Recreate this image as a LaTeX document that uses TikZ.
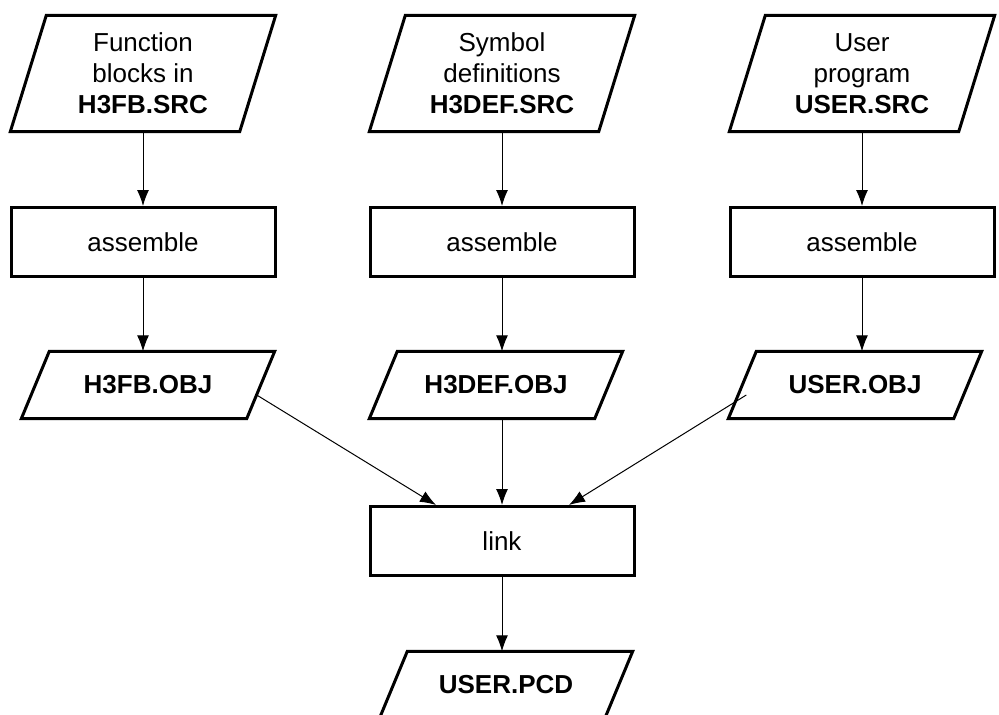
\documentclass[tikz,border=0pt]{standalone}
\usepackage{fontspec}
\setmainfont{Liberation Sans}
\usetikzlibrary{arrows.meta}
\tikzset{
    every node/.append style={font=\fontsize{26}{31}\selectfont, align=center},
    flow/.style={line width=1pt, -{Latex[length=16pt,width=12pt]}},
    outline/.style={line width=3pt},
    process/.style={draw, outline, minimum width=264pt, minimum height=69pt,
        inner sep=0pt},
    srcfile/.style={minimum width=229pt, minimum height=116pt, inner sep=0pt},
    objfile/.style={minimum width=225pt, minimum height=67pt, inner sep=0pt},
}

\begin{document}
\begin{tikzpicture}[x=1pt,y=-1pt]
  \useasboundingbox (0,0) rectangle (999,715);

  % source files
  \node[srcfile] (fbsrc)  at (143,73.5) {Function\\blocks in\\\textbf{H3FB.SRC}};
  \node[srcfile] (defsrc) at (502,73.5) {Symbol\\definitions\\\textbf{H3DEF.SRC}};
  \node[srcfile] (usrsrc) at (862,73.5) {User\\program\\\textbf{USER.SRC}};

  % assembler steps
  \node[process] (fbasm)  at (143,242) {assemble};
  \node[process] (defasm) at (502,242) {assemble};
  \node[process] (usrasm) at (862,242) {assemble};

  % object files
  \node[objfile] (fbobj)  at (148,385) {\textbf{H3FB.OBJ}};
  \node[objfile] (defobj) at (496,385) {\textbf{H3DEF.OBJ}};
  \node[objfile] (usrobj) at (855,385) {\textbf{USER.OBJ}};

  % linker and result
  \node[process] (link) at (502,541) {link};
  \node[objfile] (pcd)  at (506,685) {\textbf{USER.PCD}};

  % slanted outlines of the files
  \foreach \n/\s in {fbsrc/18,defsrc/18,usrsrc/18,fbobj/14,defobj/14,usrobj/14,pcd/14}
    \draw[outline] ([xshift=\s pt]\n.north west) -- ([xshift=\s pt]\n.north east)
      -- ([xshift=-\s pt]\n.south east) -- ([xshift=-\s pt]\n.south west) -- cycle;

  % coordinates
  \coordinate (fbout)  at ([xshift=-4pt,yshift=-10pt]fbobj.east);
  \coordinate (usrout) at ([xshift=4pt,yshift=-10pt]usrobj.west);
  \coordinate (linkl)  at ([xshift=-66pt]link.north);
  \coordinate (linkr)  at ([xshift=67pt]link.north);

  % edges
  \draw (fbsrc) edge[flow] (fbasm);
  \draw (defsrc) edge[flow] (defasm);
  \draw (usrsrc) edge[flow] (usrasm);
  \draw (fbasm.south) edge[flow] (fbasm.south |- fbobj.north);
  \draw (defasm.south) edge[flow] (defasm.south |- defobj.north);
  \draw (usrasm.south) edge[flow] (usrasm.south |- usrobj.north);
  \draw (fbout) edge[flow] (linkl);
  \draw (link.north |- defobj.south) edge[flow] (link.north);
  \draw (usrout) edge[flow] (linkr);
  \draw (link.south) edge[flow] (link.south |- pcd.north);
\end{tikzpicture}
\end{document}
